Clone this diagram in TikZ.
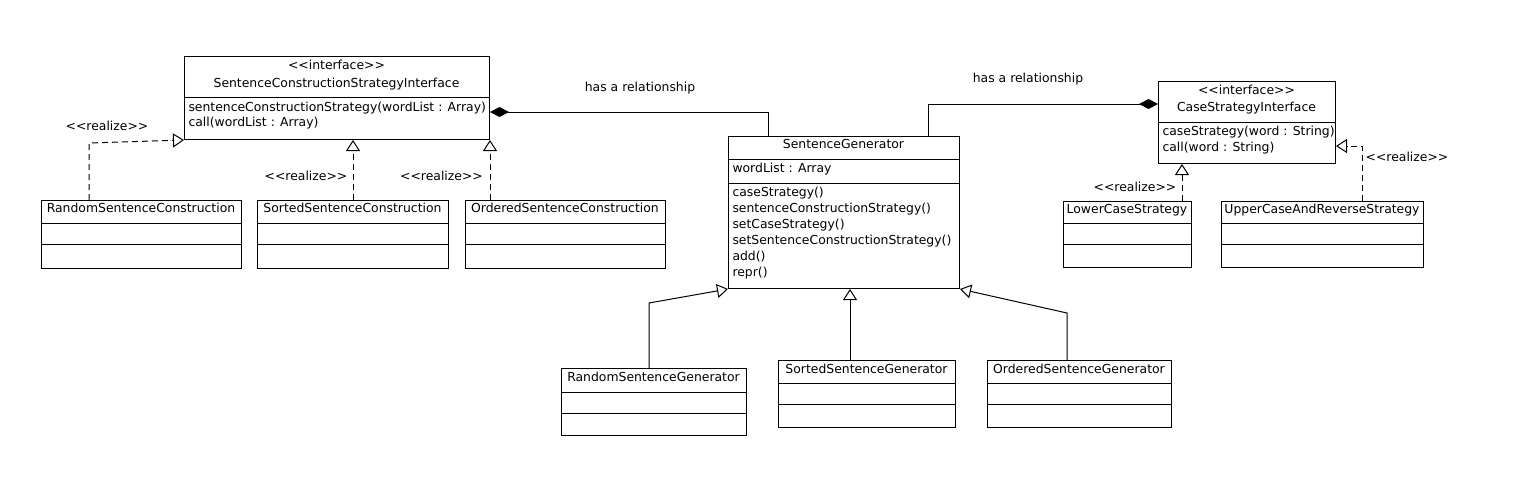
\documentclass[tikz,border=0pt]{standalone}
\usepackage{fontspec}
\setmainfont{DejaVu Sans}
\usetikzlibrary{arrows.meta, calc, positioning}
\newcommand{\stereo}[1]{<\kern0pt<#1>\kern0pt>}
\tikzset{
    cls/.style={draw, rectangle, inner sep=0pt, anchor=north west},
    lbl/.style={font=\fontsize{12.4}{14}\selectfont, inner sep=0pt, text height=9pt, text depth=2.5pt},
    member/.style={lbl, anchor=west},
    realize/.style={dash pattern=on 6pt off 4pt, -{Triangle[open, length=11pt, width=14pt]}},
    inherit/.style={-{Triangle[open, length=11pt, width=14pt]}},
    compose/.style={{Diamond[length=19pt, width=10pt]}-},
}

\begin{document}
\begin{tikzpicture}[x=1pt, y=-1pt, line width=1pt]
    \useasboundingbox (0, 0) rectangle (1531, 491);

    \node[cls, minimum width=305pt, minimum height=83pt] (scsi) at (184, 56) {};
    \draw (scsi.west |- 0, 97) -- (scsi.east |- 0, 97);
    \node[lbl] (scsi-st) at (336.5, 66.5) {\stereo{interface}};
    \node[lbl] (scsi-name) at (336.5, 84.5) {SentenceConstructionStrategyInterface};
    \node[member] (scsi-m1) at (188, 108) {sentenceConstructionStrategy(wordList : Array)};
    \node[member] (scsi-m2) at (188, 123) {call(wordList : Array)};

    \node[cls, minimum width=200pt, minimum height=68pt] (rsc) at (41, 200) {};
    \draw (rsc.west |- 0, 223) -- (rsc.east |- 0, 223);
    \draw (rsc.west |- 0, 244) -- (rsc.east |- 0, 244);
    \node[lbl] (rsc-name) at (141, 209.5) {RandomSentenceConstruction};

    \node[cls, minimum width=191pt, minimum height=68pt] (ssc) at (257, 200) {};
    \draw (ssc.west |- 0, 223) -- (ssc.east |- 0, 223);
    \draw (ssc.west |- 0, 244) -- (ssc.east |- 0, 244);
    \node[lbl] (ssc-name) at (352.5, 209.5) {SortedSentenceConstruction};

    \node[cls, minimum width=200pt, minimum height=68pt] (osc) at (465, 200) {};
    \draw (osc.west |- 0, 223) -- (osc.east |- 0, 223);
    \draw (osc.west |- 0, 244) -- (osc.east |- 0, 244);
    \node[lbl] (osc-name) at (565, 209.5) {OrderedSentenceConstruction};

    \node[cls, minimum width=231pt, minimum height=152pt] (sg) at (728, 136) {};
    \draw (sg.west |- 0, 159) -- (sg.east |- 0, 159);
    \draw (sg.west |- 0, 183) -- (sg.east |- 0, 183);
    \node[lbl] (sg-name) at (843.5, 145.5) {SentenceGenerator};
    \node[member] (sg-a1) at (732, 169) {wordList : Array};
    \node[member] (sg-m1) at (732, 193) {caseStrategy()};
    \node[member] (sg-m2) at (732, 209) {sentenceConstructionStrategy()};
    \node[member] (sg-m3) at (732, 225) {setCaseStrategy()};
    \node[member] (sg-m4) at (732, 241) {setSentenceConstructionStrategy()};
    \node[member] (sg-m5) at (732, 257) {add()};
    \node[member] (sg-m6) at (732, 273) {repr()};

    \node[cls, minimum width=177pt, minimum height=82pt] (csi) at (1158, 81) {};
    \draw (csi.west |- 0, 122) -- (csi.east |- 0, 122);
    \node[lbl] (csi-st) at (1246.5, 91.5) {\stereo{interface}};
    \node[lbl] (csi-name) at (1246.5, 108.5) {CaseStrategyInterface};
    \node[member] (csi-m1) at (1162, 132) {caseStrategy(word : String)};
    \node[member] (csi-m2) at (1162, 148) {call(word : String)};

    \node[cls, minimum width=128pt, minimum height=66pt] (lcs) at (1063, 201) {};
    \draw (lcs.west |- 0, 223) -- (lcs.east |- 0, 223);
    \draw (lcs.west |- 0, 244) -- (lcs.east |- 0, 244);
    \node[lbl] (lcs-name) at (1127, 210) {LowerCaseStrategy};

    \node[cls, minimum width=202pt, minimum height=66pt] (ucrs) at (1221, 201) {};
    \draw (ucrs.west |- 0, 223) -- (ucrs.east |- 0, 223);
    \draw (ucrs.west |- 0, 244) -- (ucrs.east |- 0, 244);
    \node[lbl] (ucrs-name) at (1322, 210) {UpperCaseAndReverseStrategy};

    \node[cls, minimum width=185pt, minimum height=67pt] (rsg) at (561, 368) {};
    \draw (rsg.west |- 0, 392) -- (rsg.east |- 0, 392);
    \draw (rsg.west |- 0, 413) -- (rsg.east |- 0, 413);
    \node[lbl] (rsg-name) at (653.5, 378.5) {RandomSentenceGenerator};

    \node[cls, minimum width=177pt, minimum height=67pt] (ssg) at (778, 360) {};
    \draw (ssg.west |- 0, 383) -- (ssg.east |- 0, 383);
    \draw (ssg.west |- 0, 404) -- (ssg.east |- 0, 404);
    \node[lbl] (ssg-name) at (866.5, 370) {SortedSentenceGenerator};

    \node[cls, minimum width=184pt, minimum height=67pt] (osg) at (987, 360) {};
    \draw (osg.west |- 0, 383) -- (osg.east |- 0, 383);
    \draw (osg.west |- 0, 404) -- (osg.east |- 0, 404);
    \node[lbl] (osg-name) at (1079, 370) {OrderedSentenceGenerator};

    \draw[compose] (scsi.east |- 0, 112) -| ([xshift=40pt]sg.north west);
    \node[lbl] (has1) at (640, 88) {has a relationship};
    \draw[compose] (csi.west |- 0, 104) -| ([xshift=200pt]sg.north west);
    \node[lbl] (has2) at (1028, 79) {has a relationship};

    \draw[realize] ([xshift=48pt]rsc.north west) -- ++(0, -57) -- (scsi.south west);
    \node[lbl] (real1) at (107, 127) {\stereo{realize}};
    \draw[realize] (ssc.north) -- (ssc.north |- scsi.south);
    \node[lbl] (real2) at (306, 177) {\stereo{realize}};
    \draw[realize] (osc.north -| scsi.east) -- (scsi.south east);
    \node[lbl] (real3) at (441.5, 177) {\stereo{realize}};
    \draw[realize] ([xshift=119pt]lcs.north west) coordinate (l1) -- (l1 |- csi.south);
    \node[lbl] (real4) at (1135, 188) {\stereo{realize}};
    \draw[realize] ([xshift=141pt]ucrs.north west) |- ([yshift=18pt]csi.south east);
    \node[lbl] (real5) at (1407, 158) {\stereo{realize}};

    \draw[inherit] ([xshift=88pt]rsg.north west) -- ++(0, -65) -- (sg.south west);
    \draw[inherit] ([xshift=72pt]ssg.north west) coordinate (s1) -- (s1 |- sg.south);
    \draw[inherit] ([xshift=80pt]osg.north west) -- ++(0, -47) -- (sg.south east);
\end{tikzpicture}
\end{document}
